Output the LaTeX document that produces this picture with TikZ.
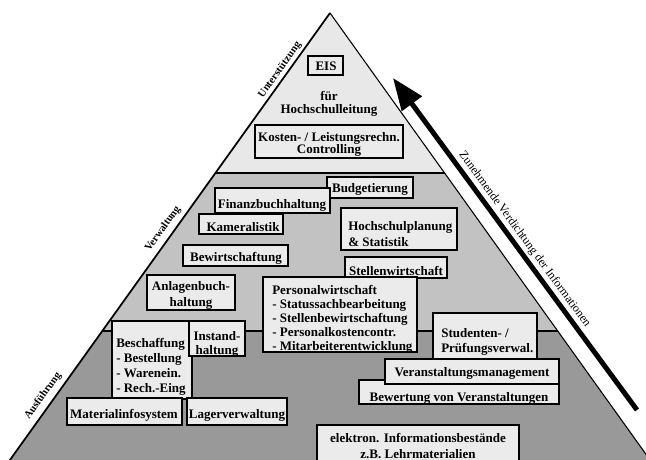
\documentclass[tikz,border=0pt]{standalone}
\usepackage{fontspec}
\setmainfont{Liberation Serif}
\usetikzlibrary{arrows.meta}
\definecolor{bandtop}{gray}{0.91}
\definecolor{bandmid}{gray}{0.76}
\definecolor{bandlow}{gray}{0.60}
\definecolor{boxgray}{gray}{0.92}
\newcommand{\boxfont}{\fontsize{9.75}{10.5}\selectfont\bfseries}
\tikzset{
  infobox/.style={draw=black,line width=1.1pt,fill=boxgray},
  infotext/.style={font=\boxfont,inner sep=0pt,align=center},
  listtext/.style={font=\boxfont,inner sep=0pt,align=left,anchor=north west},
  sidelabel/.style={font=\fontsize{8}{8}\selectfont\bfseries,inner sep=0pt,rotate=54.4},
  trendarrow/.style={-{Triangle[length=24pt,width=18pt]},line width=3.75pt},
  trendlabel/.style={font=\fontsize{9}{9}\selectfont,inner sep=0pt,anchor=south,rotate=-53.7}
}
\begin{document}
\begin{tikzpicture}[x=0.75pt,y=-0.75pt]
  \useasboundingbox (0,0) rectangle (646,460);
  \clip (0,0) rectangle (646,460);
  % pyramid layers
  \coordinate (apex) at (330,13);
  \fill[bandtop] (apex) -- (444.6,173) -- (215.4,173) -- cycle;
  \fill[bandmid] (215.4,173) -- (444.6,173) -- (557.7,331) -- (102.3,331) -- cycle;
  \fill[bandlow] (102.3,331) -- (557.7,331) -- (664.4,480) -- (-4.4,480) -- cycle;
  \draw[line width=0.8pt] (215.4,173) -- (444.6,173);
  \draw[line width=0.8pt] (102.3,331) -- (557.7,331);
  \draw[line width=1.3pt] (-4.4,480) -- (apex);
  \draw[line width=0.8pt] (apex) -- (664.4,480);
  % labels along the left edge
  \node[sidelabel] (levelone) at (280,70) {Unterstützung};
  \node[sidelabel] (leveltwo) at (163,229) {Verwaltung};
  \node[sidelabel] (levelthree) at (43,396) {Ausführung};
  % trend arrow
  \coordinate (trendtail) at (637,410);
  \coordinate (trendtip) at (393,78);
  \node[trendlabel] (trend) at (520,243) {Zunehmende Verdichtung der Informationen};
  \draw[trendarrow] (trendtail) -- (trendtip);
  % top layer
  \draw[infobox] (308,56) rectangle (343,75);
  \node[infotext] (eis) at (326,66) {EIS};
  \node[infotext,font=\fontsize{9.75}{9.75}\selectfont\bfseries] (leitung) at (329,104) {für\\Hochschulleitung};
  \draw[infobox] (255,125) rectangle (403,158);
  \node[infotext,font=\fontsize{9.75}{9}\selectfont\bfseries] (kosten) at (329,144) {Kosten- / Leistungsrechn.\\Controlling};
  % middle layer
  \draw[infobox] (327,177) rectangle (413,198);
  \node[infotext] (budget) at (370,189) {Budgetierung};
  \draw[infobox] (215,188) rectangle (330,213);
  \node[infotext] (fibu) at (272,205) {Finanzbuchhaltung};
  \draw[infobox] (199,214) rectangle (283,234);
  \node[infotext] (kamera) at (243,227) {Kameralistik};
  \draw[infobox] (341,208) rectangle (457,250);
  \node[listtext,font=\fontsize{9.75}{12}\selectfont\bfseries] (planung) at (348,221) {Hochschulplanung\\\& Statistik};
  \draw[infobox] (183,245) rectangle (288,266);
  \node[infotext] (bewirt) at (236,258) {Bewirtschaftung};
  \draw[infobox] (345,257) rectangle (447,278);
  \node[infotext] (stellen) at (396,271) {Stellenwirtschaft};
  \draw[infobox] (263,277) rectangle (417,352);
  \node[listtext] (personal) at (272,285) {Personalwirtschaft\\- Statussachbearbeitung\\- Stellenbewirtschaftung\\- Personalkostencontr.\\- Mitarbeiterentwicklung};
  \draw[infobox] (147,275) rectangle (235,310);
  \node[infotext,font=\fontsize{9.75}{12}\selectfont\bfseries] (anlagen) at (191,295) {Anlagenbuch-\\haltung};
  % bottom layer
  \draw[infobox] (112,321) rectangle (192,399);
  \node[listtext,font=\fontsize{9.75}{11.25}\selectfont\bfseries] (beschaffung) at (116,338) {Beschaffung\\- Bestellung\\- Warenein.\\- Rech.-Eing};
  \draw[infobox] (189,321) rectangle (245,356);
  \node[infotext] (instand) at (217,344) {Instand-\\haltung};
  \draw[infobox] (67,398) rectangle (182,425);
  \node[infotext] (material) at (124,415) {Materialinfosystem};
  \draw[infobox] (187,398) rectangle (287,425);
  \node[infotext] (lager) at (237,415) {Lagerverwaltung};
  \draw[infobox] (433,313) rectangle (537,359);
  \node[listtext,font=\fontsize{9.75}{11.25}\selectfont\bfseries] (studenten) at (441,328) {Studenten- /\\Prüfungsverwal.};
  \draw[infobox] (359,380) rectangle (559,404);
  \node[infotext] (bewertung) at (459,398) {Bewertung von Veranstaltungen};
  \draw[infobox] (385,359) rectangle (559,384);
  \node[infotext] (veranst) at (472,373) {Veranstaltungsmanagement};
  \draw[infobox] (317,425) rectangle (519,470);
  \node[infotext,font=\fontsize{9.75}{12}\selectfont\bfseries] (elektron) at (418,446) {elektron. Informationsbestände\\z.B. Lehrmaterialien};
\end{tikzpicture}
\end{document}
